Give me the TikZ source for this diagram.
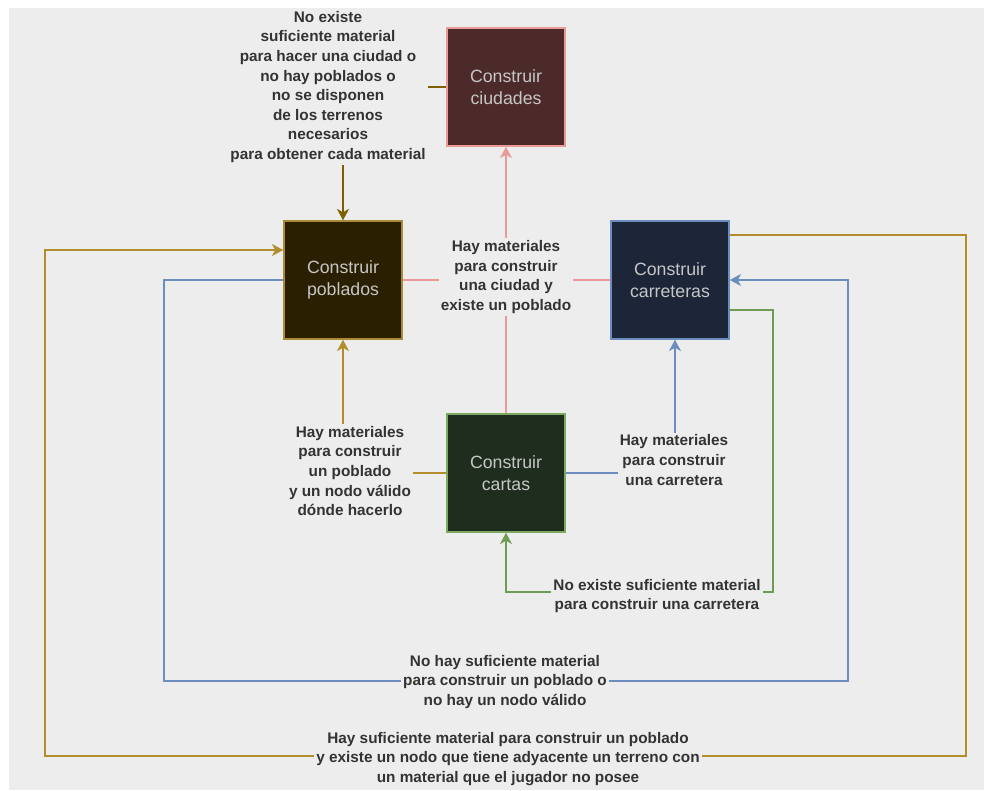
\documentclass[tikz,border=0pt]{standalone}
\usepackage{fontspec}
\setmainfont{Liberation Sans}
\usetikzlibrary{arrows.meta}

\definecolor{bg}{HTML}{EDEDED}
\definecolor{ciudfill}{HTML}{4D2A2A}
\definecolor{ciudline}{HTML}{E99A97}
\definecolor{pobfill}{HTML}{2A1F00}
\definecolor{pobline}{HTML}{A98A35}
\definecolor{carrfill}{HTML}{1D2639}
\definecolor{carrline}{HTML}{6C8EBF}
\definecolor{cartfill}{HTML}{1F2D1E}
\definecolor{cartline}{HTML}{7DA85F}
\definecolor{pinkc}{HTML}{EA9999}
\definecolor{darkgold}{HTML}{7F6000}
\definecolor{gold}{HTML}{B38D2C}
\definecolor{bluec}{HTML}{6C8EBF}
\definecolor{greenc}{HTML}{6E9C55}
\definecolor{boxtext}{HTML}{C6C6C6}
\definecolor{lbltext}{HTML}{333333}

\begin{document}
\begin{tikzpicture}[x=0.75pt,y=-0.75pt,
  box/.style={draw, line width=1.1pt, minimum size=88.5pt, inner sep=0pt,
    align=center, text=boxtext, font=\fontsize{13.3}{16.7}\selectfont},
  lbl/.style={fill=bg, inner sep=1.5pt, align=center, text=lbltext,
    font=\bfseries\fontsize{11.5}{14.7}\selectfont},
  conn/.style={line width=1.1pt},
  tip/.style={-{Stealth[length=8.5pt,width=9pt,inset=2.5pt]}}
]
% canvas
\useasboundingbox (0,0) rectangle (987,790);
\fill[white] (0,0) rectangle (987,790);
\fill[bg] (9,8) rectangle (984,790);

% states
\node[box, fill=ciudfill, draw=ciudline] (ciud) at (506,87) {Construir\\ciudades};
\node[box, fill=pobfill, draw=pobline] (pob) at (343,280) {Construir\\poblados};
\node[box, fill=carrfill, draw=carrline] (carr) at (670,280) {Construir\\carreteras};
\node[box, fill=cartfill, draw=cartline] (cart) at (506,473) {Construir\\cartas};

% corner points of the long connectors
\coordinate (g1) at (773,592);
\coordinate (b1) at (164,681);
\coordinate (b2) at (848,681);
\coordinate (o1) at (966,756);
\coordinate (o2) at (45,756);

% transitions
\draw[conn, pinkc, tip] (cart.north) -- (ciud.south);
\draw[conn, pinkc] (pob.east) -- (carr.west);
\draw[conn, darkgold, tip] (ciud.west) -| (pob.north);
\draw[conn, gold, tip] (cart.west) -| (pob.south);
\draw[conn, bluec, tip] (cart.east) -| ([xshift=3.75pt]carr.south);
\draw[conn, greenc, tip] ([yshift=-22.5pt]carr.east) -| (g1) -| (cart.south);
\draw[conn, bluec, tip] (pob.west) -| (b1) -- (b2) |- (carr.east);
\draw[conn, gold, tip] ([yshift=33.75pt]carr.east) -| (o1) -- (o2) |- ([yshift=22.5pt]pob.west);

% conditions
\node[lbl] (lciud) at (506,277) {Hay materiales\\para construir\\una ciudad y\\existe un poblado};
\node[lbl] (ltop) at (328,87) {No existe\\suficiente material\\para hacer una ciudad o\\no hay poblados o\\no se disponen\\de los terrenos\\necesarios\\para obtener cada material};
\node[lbl] (lpob) at (350,471) {Hay materiales\\para construir\\un poblado\\y un nodo válido\\dónde hacerlo};
\node[lbl] (lcarr) at (674,460) {Hay materiales\\para construir\\una carretera};
\node[lbl] (lgreen) at (657,596) {No existe suficiente material\\para construir una carretera};
\node[lbl] (lblue) at (505,682) {No hay suficiente material\\para construir un poblado o\\no hay un nodo válido};
\node[lbl] (lgold) at (508,759) {Hay suficiente material para construir un poblado\\y existe un nodo que tiene adyacente un terreno con\\un material que el jugador no posee};
\end{tikzpicture}
\end{document}
